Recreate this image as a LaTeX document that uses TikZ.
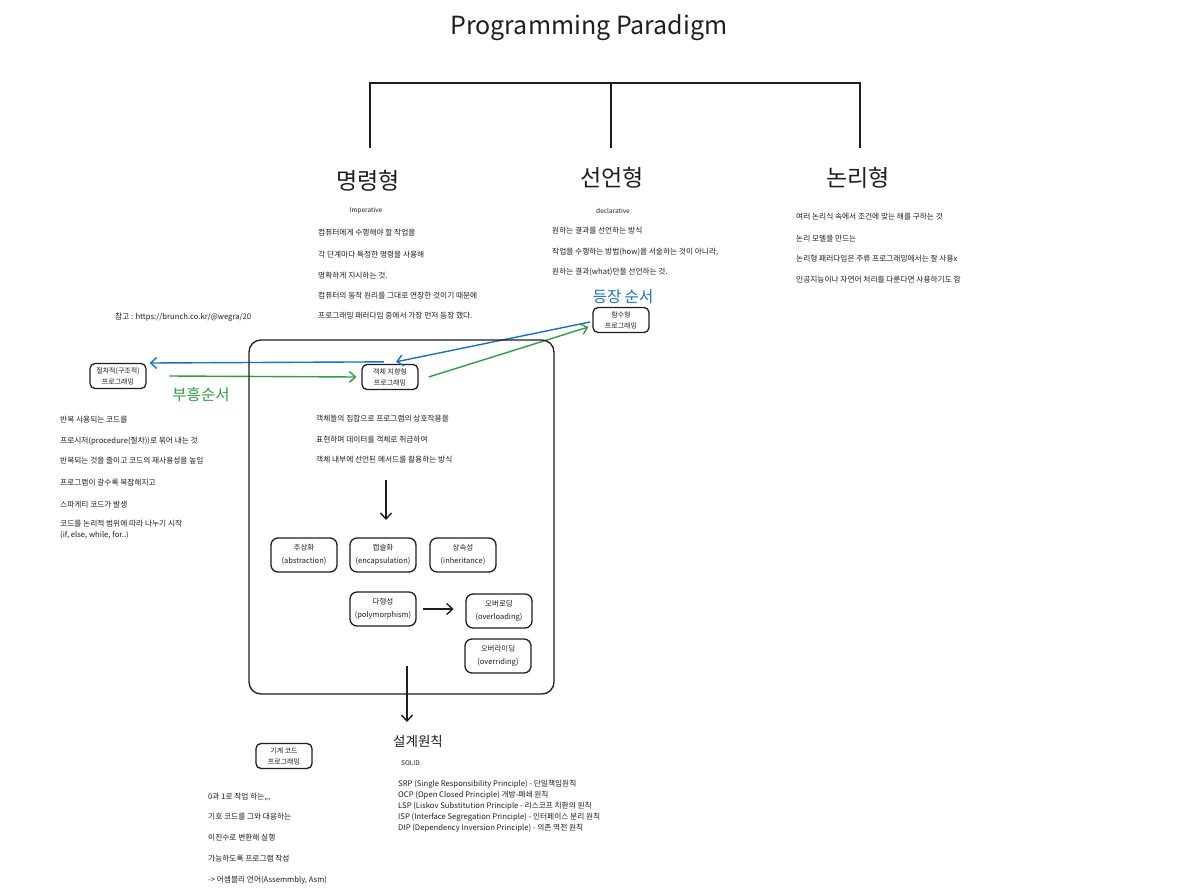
\documentclass[tikz,border=0pt]{standalone}
\usepackage{fontspec}
\setmainfont{Noto Sans CJK KR}
\usetikzlibrary{arrows.meta,positioning}
\definecolor{ink}{HTML}{1E1E1E}
\definecolor{orderblue}{HTML}{1971C2}
\definecolor{revivegreen}{HTML}{2F9E44}
\tikzset{
	memo/.style={anchor=west,inner sep=0pt,text=ink,font=\fontsize{7.7}{9}\selectfont},
	pbox/.style={draw=ink,rounded corners=5pt,line width=1.3pt,align=center,text=ink,
		font=\fontsize{7}{11}\selectfont,inner sep=2pt,minimum width=56pt,minimum height=25pt},
	cbox/.style={pbox,rounded corners=7pt,font=\fontsize{7.5}{13}\selectfont,minimum width=66pt,minimum height=34pt},
	headline/.style={text=ink,font=\fontsize{23}{26}\selectfont},
	tip/.style={-{Straight Barb[length=6pt,width=11pt]},line width=1.4pt},
}

\begin{document}
\begin{tikzpicture}[x=1pt,y=-1pt]
	\fill[white] (0,0) rectangle (1188,894);
	\useasboundingbox (0,0) rectangle (1188,894);

	% title and tree
	\node[text=ink,font=\fontsize{25}{28}\selectfont] (title) at (589,28) {Programming Paradigm};
	\node[headline] (imp) at (368,181) {명령형};
	\node[headline] (decl) at (612,178) {선언형};
	\node[headline] (logic) at (858,178) {논리형};
	\coordinate (split) at (611,83);
	\coordinate (imp top) at (370,148);
	\coordinate (decl top) at (611,148);
	\coordinate (logic top) at (860,148);
	\draw[ink,line width=1.3pt] (imp top) -- (imp top |- split) -- (logic top |- split) -- (logic top);
	\draw[ink,line width=1.3pt] (split) -- (decl top);

	% imperative
	\node[text=ink,font=\fontsize{6.5}{8}\selectfont] (imp en) at (366,211) {Imperative};
	\node[memo] (imp1) at (318,233) {컴퓨터에게 수행해야 할 작업을};
	\node[memo] (imp2) at (318,255) {각 단계마다 특정한 명령을 사용해};
	\node[memo] (imp3) at (318,276) {명확하게 지시하는 것.};
	\node[memo] (imp4) at (318,296) {컴퓨터의 동작 원리를 그대로 연장한 것이기 때문에};
	\node[memo] (imp5) at (318,316) {프로그래밍 패러다임 중에서 가장 먼저 등장 했다.};
	\node[memo] (ref) at (115,317) {참고 : https://brunch.co.kr/@wegra/20};

	% declarative
	\node[text=ink,font=\fontsize{6.5}{8}\selectfont] (decl en) at (613,211) {declarative};
	\node[memo] (decl1) at (552,231) {원하는 결과를 선언하는 방식};
	\node[memo] (decl2) at (552,252) {작업을 수행하는 방법(how)을 서술하는 것이 아니라,};
	\node[memo] (decl3) at (552,272) {원하는 결과(what)만을 선언하는 것.};

	% logic
	\node[memo] (logic1) at (796,217) {여러 논리식 속에서 조건에 맞는 해를 구하는 것};
	\node[memo] (logic2) at (796,239) {논리 모델을 만드는};
	\node[memo] (logic3) at (796,259) {논리형 패러다임은 주류 프로그래밍에서는 잘 사용x};
	\node[memo] (logic4) at (796,280) {인공지능이나 자연어 처리를 다룬다면 사용하기도 함};

	% order of appearance
	\node[text=orderblue,font=\fontsize{15.5}{18}\selectfont] (order) at (623,297) {등장 순서};
	\node[text=revivegreen,font=\fontsize{15.5}{18}\selectfont] (revive) at (201,395) {부흥순서};
	\node[pbox] (func) at (621,320) {함수형\\프로그래밍};
	\node[pbox] (proc) at (118,376) {절차적(구조적)\\프로그래밍};
	\node[pbox] (oop) at (390,377) {객체 지향형\\프로그래밍};
	\coordinate (order tail) at (590,322);
	\draw[orderblue,tip] (order tail) -- ([xshift=6pt,yshift=2pt]oop.north);
	\draw[orderblue,tip] ([xshift=-6pt,yshift=2pt]oop.north) -- ([xshift=3pt,yshift=13pt]proc.east);
	\draw[revivegreen,tip] ([xshift=23pt]proc.east) -- ([xshift=-5pt]oop.west);
	\draw[revivegreen,tip] ([xshift=10pt]oop.east) -- ([xshift=-4pt,yshift=-7pt]func.west);

	% procedural
	\node[memo] (proc1) at (60,420) {반복 사용되는 코드를};
	\node[memo] (proc2) at (60,441) {프로시저(procedure(절차))로 묶어 내는 것};
	\node[memo] (proc3) at (60,461) {반복되는 것을 줄이고 코드의 재사용성을 높임};
	\node[memo] (proc4) at (60,483) {프로그램이 갈수록 복잡해지고};
	\node[memo] (proc5) at (60,505) {스파게티 코드가 발생};
	\node[memo,align=left,font=\fontsize{7.7}{11}\selectfont] (proc6) at (60,530) {코드를 논리적 범위에 따라 나누기 시작\\(if, else, while, for..)};

	% object oriented frame
	\draw[ink,rounded corners=12pt,line width=1.3pt] (249,340) rectangle (554,694);
	\node[memo] (oop1) at (316,419) {객체들의 집합으로 프로그램의 상호작용을};
	\node[memo] (oop2) at (316,440) {표현하며 데이터를 객체로 취급하여};
	\node[memo] (oop3) at (316,460) {객체 내부에 선언된 메서드를 활용하는 방식};
	\coordinate (oop flow) at (386,480);
	\coordinate (oop flow end) at (386,520);
	\draw[ink,tip] (oop flow) -- (oop flow end);

	\node[cbox] (abs) at (304,555) {추상화\\(abstraction)};
	\node[cbox] (enc) at (383,555) {캡슐화\\(encapsulation)};
	\node[cbox] (inh) at (463,555) {상속성\\(inheritance)};
	\node[cbox] (poly) at (383,609) {다형성\\(polymorphism)};
	\node[cbox] (ovl) at (499,611) {오버로딩\\(overloading)};
	\node[cbox] (ovr) at (498,656) {오버라이딩\\(overriding)};
	\draw[ink,tip] ([xshift=6pt]poly.east) -- ([xshift=37pt]poly.east);

	% design principles
	\coordinate (frame exit) at (407,666);
	\coordinate (design in) at (407,722);
	\draw[ink,tip] (frame exit) -- (design in);
	\node[text=ink,font=\fontsize{13.5}{16}\selectfont,anchor=west,inner sep=0pt] (design) at (393,741) {설계원칙};
	\node[text=ink,font=\fontsize{6.5}{8}\selectfont,anchor=west,inner sep=0pt] (solid) at (401,763) {SOLID};
	\node[memo,align=left,font=\fontsize{7.7}{11}\selectfont] (solid list) at (398,806) {SRP (Single Responsibility Principle) - 단일책임원칙\\OCP (Open Closed Principle) 개방-폐쇄 원칙\\LSP (Liskov Substitution Principle - 리스코프 치환의 원칙\\ISP (Interface Segregation Principle) - 인터페이스 분리 원칙\\DIP (Dependency Inversion Principle) - 의존 역전 원칙};

	% machine code
	\node[pbox] (machine) at (284,756) {기계 코드\\프로그래밍};
	\node[memo] (mach1) at (208,797) {0과 1로 작업 하는,,,};
	\node[memo] (mach2) at (208,817) {기호 코드를 그와 대응하는};
	\node[memo] (mach3) at (208,838) {이진수로 변환해 실행};
	\node[memo] (mach4) at (208,859) {가능하도록 프로그램 작성};
	\node[memo] (mach5) at (208,880) {-> 어셈블리 언어(Assemmbly, Asm)};
\end{tikzpicture}
\end{document}
